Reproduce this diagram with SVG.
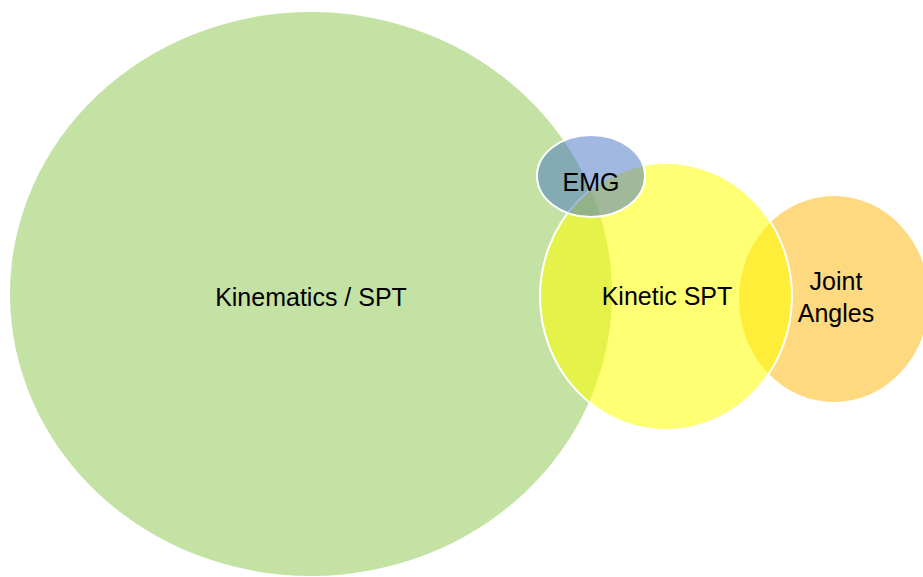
<svg xmlns="http://www.w3.org/2000/svg" width="923" height="577" viewBox="0 0 923 577">
<style>
.c{stroke:#ffffff;stroke-width:2}
.t{font-family:"Liberation Sans",Arial,sans-serif;font-size:25px;fill:#000000;text-anchor:middle}
</style>
<rect width="923" height="577" fill="#ffffff"/>
<g id="kinematics">
<ellipse cx="311" cy="294" rx="301" ry="282" fill="#C5E2A5"/>
<text class="t" x="311" y="306">Kinematics / SPT</text>
</g>
<g id="joint-angles">
<ellipse cx="834" cy="299" rx="95" ry="103" fill="#FFD97F"/>
<text class="t" x="836" y="290">Joint</text>
<text class="t" x="836" y="322">Angles</text>
</g>
<g id="kinetic">
<ellipse class="c" cx="666" cy="296.5" rx="126" ry="133.5" fill="#FFFF00" fill-opacity="0.55"/>
<text class="t" x="667" y="305">Kinetic SPT</text>
</g>
<g id="emg">
<ellipse class="c" cx="591" cy="176" rx="54" ry="41" fill="#4472C4" fill-opacity="0.5"/>
<text class="t" x="591" y="191">EMG</text>
</g>
<g id="connectors"/>
</svg>
